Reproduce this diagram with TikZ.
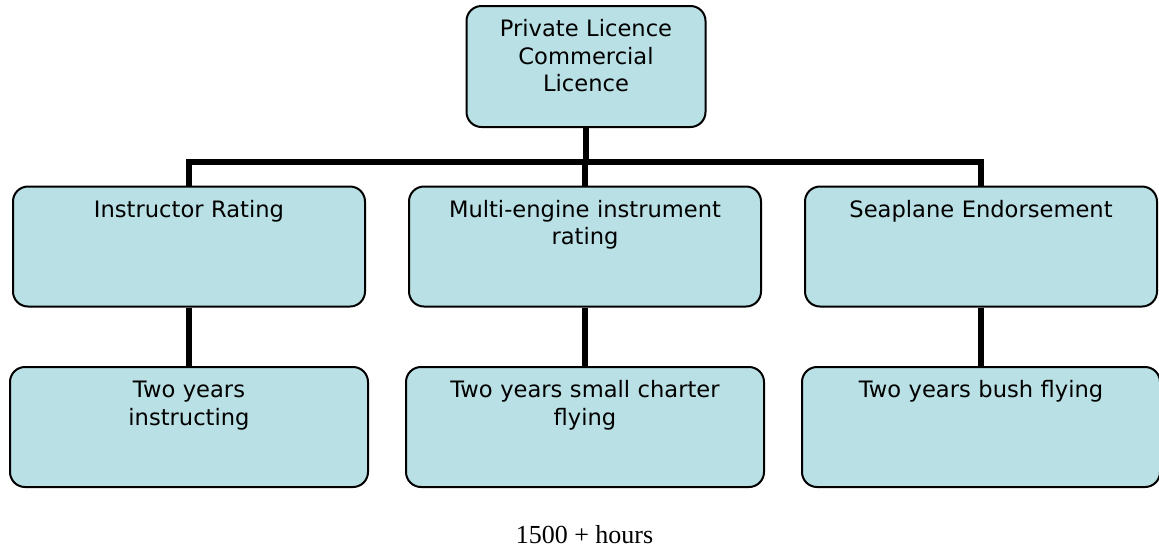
\documentclass[tikz,border=0pt]{standalone}
\usepackage{fontspec}
\setmainfont{DejaVu Sans}
\newfontfamily\timesfont{Liberation Serif}
\usetikzlibrary{positioning}
\definecolor{boxfill}{RGB}{185,224,228}

\begin{document}
\begin{tikzpicture}[x=1pt,y=-1pt, every node/.append style={on grid,node distance=180pt and 396pt},
                    card/.style={draw,line width=2pt,rounded corners=15pt,fill=boxfill,align=center,
                                 font=\fontsize{22.6}{27.5}\selectfont,inner xsep=14pt,inner ysep=14pt,
                                 text height=16.5pt,text depth=75.5pt,text width=324pt},
                    tie/.style={line width=5.5pt}]

\useasboundingbox (0,0) rectangle (1159,550);

\node [card,text width=211pt,text depth=76.5pt] (top) at (586,66.5) {Private Licence\\ Commercial\\ Licence};
\node [card,below=of top,xshift=-1pt] (multi) {Multi-engine instrument\\ rating};
\node [card,left=of multi] (instr) {Instructor Rating};
\node [card,right=of multi] (sea) {Seaplane Endorsement};
\node [card,text width=330pt,below=180.5pt of instr] (teach) {Two years\\ instructing};
\node [card,text width=330pt,below=180.5pt of multi] (charter) {Two years small charter\\ flying};
\node [card,text width=330pt,below=180.5pt of sea] (bush) {Two years bush flying};
\coordinate [below=95.5pt of top] (fork);
\node [font=\timesfont\fontsize{26}{30}\selectfont,anchor=base] (hours) at (584.5,543) {1500 + hours};

\draw[tie] (top) -- (fork);
\draw[tie] (fork) -| (instr);
\draw[tie] (fork) -| (multi);
\draw[tie] (fork) -| (sea);
\draw[tie] (instr) -- (teach);
\draw[tie] (multi) -- (charter);
\draw[tie] (sea) -- (bush);

\end{tikzpicture}
\end{document}
